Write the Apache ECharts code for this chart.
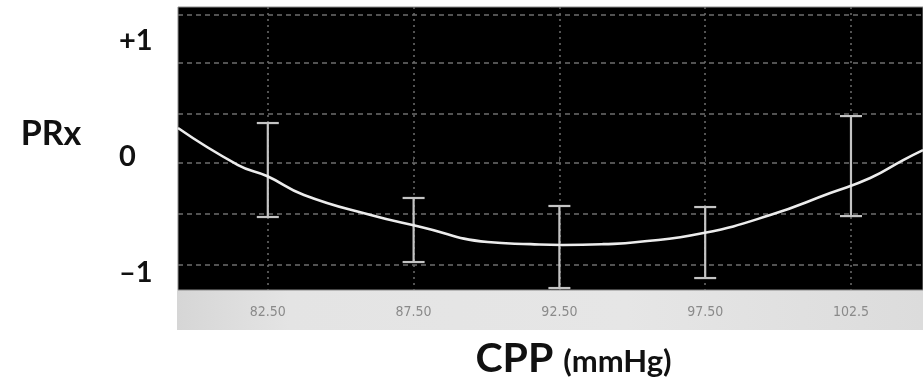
<!DOCTYPE html>
<html>
<head>
<meta charset="utf-8">
<script src="https://cdn.jsdelivr.net/npm/echarts@6/dist/echarts.min.js"></script>
<style>html,body{margin:0;padding:0;background:#fff}#c{width:923px;height:381px}</style>
</head>
<body>
<div id="c"></div>
<script>
// ---- data ----
const cppTicks = [82.5, 87.5, 92.5, 97.5, 102.5];
const cppTickLabels = ['82.50', '87.50', '92.50', '97.50', '102.5'];
const prxTicks = [-1, 0, 1];
const prxTickLabels = ['–1', '0', '+1'];
const gridLevelsPRx = [-0.934, -0.494, -0.055, 0.367, 0.807, 1.221];

const curveCPP = [79.42, 81.48, 82.47, 83.74, 86.03, 87.75, 90.04, 91.51, 92.61, 94.01, 95.18, 97.44, 99.73, 101.79, 103.16, 104.29, 104.97];
const curvePRx = [0.247, -0.072, -0.167, -0.330, -0.503, -0.606, -0.736, -0.754, -0.761, -0.754, -0.736, -0.658, -0.503, -0.313, -0.184, -0.029, 0.057];

const barCPP = [82.5, 87.5, 92.5, 97.5, 102.5];
const barHigh = [0.290, -0.356, -0.425, -0.434, 0.350];
const barLow = [-0.520, -0.908, -1.132, -1.046, -0.512];

const xMin = 79.42, xMax = 104.97;
const yMin = -1.149, yMax = 1.290;

// ---- chart ----
const chart = echarts.init(document.getElementById('c'), null, {renderer: 'canvas'});
const boldFont = 'Lato, "Open Sans", "DejaVu Sans", sans-serif';
const narrowFont = '"Liberation Sans Narrow", "DejaVu Sans Condensed", "Liberation Sans", sans-serif';

const option = {
  backgroundColor: '#ffffff',
  animation: false,
  graphic: [{
    type: 'rect',
    z: -1,
    shape: {x: 177, y: 290, width: 746, height: 40},
    style: {
      fill: new echarts.graphic.LinearGradient(0, 0, 1, 0, [
        {offset: 0, color: '#d6d6d6'},
        {offset: 0.15, color: '#e4e4e4'},
        {offset: 0.6, color: '#e6e6e6'},
        {offset: 1, color: '#dcdcdc'}
      ])
    }
  }],
  grid: {
    left: 178, right: 0, top: 7, bottom: 91,
    show: true,
    backgroundColor: '#000000',
    borderColor: '#8c8c8c',
    borderWidth: 1,
    outerBoundsMode: 'none',
    containLabel: false
  },
  xAxis: {
    type: 'value',
    min: xMin, max: xMax,
    name: '{a|CPP}{b|(mmHg)}',
    nameLocation: 'middle',
    nameGap: 48,
    nameTextStyle: {
      padding: [0, 0, 0, 46],
      rich: {
        a: {fontFamily: boldFont, fontWeight: 'bold', fontSize: 41, color: '#111'},
        b: {fontFamily: boldFont, fontWeight: 'bold', fontSize: 31, color: '#111', padding: [6, 0, 0, 10]}
      }
    },
    axisLine: {show: false},
    axisTick: {show: true, customValues: cppTicks, length: 5, lineStyle: {color: '#555', width: 1}},
    axisLabel: {
      customValues: cppTicks,
      margin: 15,
      fontFamily: narrowFont,
      fontSize: 14,
      color: '#8a8a8a',
      formatter: function (v) {
        const i = cppTicks.findIndex(t => Math.abs(t - v) < 1e-6);
        return i >= 0 ? cppTickLabels[i] : '';
      }
    },
    splitLine: {show: true, lineStyle: {color: '#6e6e6e', width: 1.5, type: [2, 4]}}
  },
  yAxis: {
    type: 'value',
    min: yMin, max: yMax,
    name: 'PRx',
    nameLocation: 'middle',
    nameRotate: 0,
    nameGap: 127,
    nameTextStyle: {fontFamily: boldFont, fontWeight: 'bold', fontSize: 34, color: '#111', align: 'center', verticalAlign: 'bottom', lineHeight: 28},
    axisLine: {show: false},
    axisTick: {show: false, customValues: gridLevelsPRx},
    axisLabel: {
      customValues: prxTicks,
      align: 'left',
      margin: 59,
      fontFamily: boldFont,
      fontWeight: 'bold',
      fontSize: 29,
      color: '#111',
      formatter: function (v) {
        const i = prxTicks.findIndex(t => Math.abs(t - v) < 1e-6);
        return i >= 0 ? prxTickLabels[i] : '';
      }
    },
    splitLine: {show: true, lineStyle: {color: '#6e6e6e', width: 1.5, type: [5, 4]}}
  },
  series: [
    {
      type: 'custom',
      name: 'PRx range',
      data: barCPP.map((c, i) => [c, barLow[i], barHigh[i]]),
      renderItem: function (params, api) {
        const x = api.value(0);
        const lo = api.coord([x, api.value(1)]);
        const hi = api.coord([x, api.value(2)]);
        const hw = 11;
        const st = {stroke: '#c4c4c4', lineWidth: 2.2};
        return {
          type: 'group',
          children: [
            {type: 'line', shape: {x1: hi[0], y1: hi[1], x2: lo[0], y2: lo[1]}, style: st},
            {type: 'line', shape: {x1: hi[0] - hw, y1: hi[1], x2: hi[0] + hw, y2: hi[1]}, style: st},
            {type: 'line', shape: {x1: lo[0] - hw, y1: lo[1], x2: lo[0] + hw, y2: lo[1]}, style: st}
          ]
        };
      },
      z: 3
    },
    {
      type: 'line',
      name: 'fit',
      data: curveCPP.map((c, i) => [c, curvePRx[i]]),
      smooth: 0.5,
      showSymbol: false,
      lineStyle: {color: '#ececec', width: 2.6},
      z: 4
    }
  ]
};
chart.setOption(option);
</script>
</body>
</html>
